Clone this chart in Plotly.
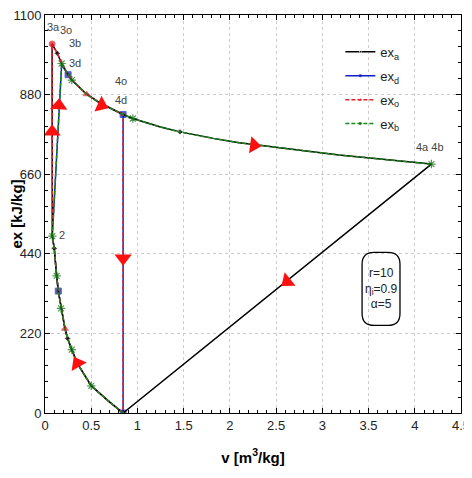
import plotly.graph_objects as go

# ---- data ----
# compression 1 -> 2 (shared by all cycles)
v_comp = [0.845, 0.70, 0.50, 0.35, 0.29, 0.245, 0.216, 0.173, 0.144, 0.126, 0.10, 0.079]
ex_comp = [0, 30, 75, 137, 175, 206, 233, 289, 337, 379, 455, 489]

# expansion curve starting at 3a / 3o
v_exp = [0.077, 0.133, 0.18, 0.25, 0.29, 0.45, 0.60, 0.845, 0.95, 1.24, 1.46, 1.82, 2.10, 3.18, 4.18]
ex_exp = [1020, 994, 966, 935, 920, 881, 856, 825, 814, 791, 777, 759, 747, 713, 688]

# state points
v1, ex1 = 0.845, 0
v3b, ex3b = 0.18, 966
v3d, ex3d = 0.25, 935
v4, ex4 = 0.845, 825
v4a, ex4a = 4.18, 688

# flow-direction arrows
arrow_v = [0.077, 0.15, 0.61, 2.26, 0.845, 2.62, 0.35]
arrow_ex = [777, 850, 851, 740, 428, 364, 137]
arrow_angle = [0, 3, 114, 98, 180, 231, -29]

# state labels
lab_text = ["3a", "3o", "3b", "3d", "4o", "4d", "4a 4b", "2"]
lab_v = [0.097, 0.227, 0.324, 0.324, 0.827, 0.827, 4.17, 0.18]
lab_ex = [1068, 1058, 1022, 968, 917, 865, 736, 491]

x_ticks = [0, 0.5, 1, 1.5, 2, 2.5, 3, 3.5, 4, 4.5]
x_ticklabels = ["0", "0.5", "1", "1.5", "2", "2.5", "3", "3.5", "4", "4.5"]
y_ticks = [0, 220, 440, 660, 880, 1100]

# ---- build cycles ----
# a: 1-2-3a-expansion-4a-1
va = v_comp + v_exp + [v1]
exa = ex_comp + ex_exp + [ex1]
# d: 1-2-3d-expansion to 4d-1
i3d = v_exp.index(v3d)
i4 = v_exp.index(v4)
vd = v_comp + [v3b] + v_exp[i3d:i4 + 1] + [v1]
exd = ex_comp + [ex3b - 4] + ex_exp[i3d:i4 + 1] + [ex1]
# o: 1-2-3o-expansion to 4o-1
vo = v_comp + v_exp[:i4 + 1] + [v1]
exo = ex_comp + ex_exp[:i4 + 1] + [ex1]
# b: 1-2-3b-expansion to 4b
i3b = v_exp.index(v3b)
vb = v_comp + v_exp[i3b:]
exb = ex_comp + ex_exp[i3b:]


def sizes(n, idx, s):
    return [s if i in idx else 0 for i in range(n)]


fig = go.Figure()

nc = len(v_comp)
# blue (d)
fig.add_trace(go.Scatter(
    x=vd, y=exd, mode="lines+markers", name="ex<sub>d</sub>", legendrank=2, legendgroup="d",
    line=dict(color="#1020c8", width=1.5),
    marker=dict(symbol="square", color="#101080",
                size=sizes(len(vd), {0, 8, nc + 1, len(vd) - 2}, 6))))
# black (a)
fig.add_trace(go.Scatter(
    x=va, y=exa, mode="lines+markers", name="ex<sub>a</sub>", legendrank=1, legendgroup="a",
    line=dict(color="black", width=1.5),
    marker=dict(symbol="diamond", color="black",
                size=sizes(len(va), {5, 10, nc + 1, nc + 10}, 5))))
# red (o)
fig.add_trace(go.Scatter(
    x=vo, y=exo, mode="lines+markers", name="ex<sub>o</sub>", legendrank=3, legendgroup="o",
    line=dict(color="#e8202a", width=1.5, dash="4px,2px"),
    marker=dict(symbol=["circle" if i == nc else "triangle-up" for i in range(len(vo))],
                color="#d01020",
                size=sizes(len(vo), {6, nc, nc + 5}, 6))))
# green (b)
fig.add_trace(go.Scatter(
    x=vb, y=exb, mode="lines+markers", name="ex<sub>b</sub>", legendrank=4, legendgroup="b",
    line=dict(color="#168a16", width=1.5, dash="4px,2px"),
    marker=dict(symbol="asterisk-open", color="#0a6a0a", line=dict(color="#0a6a0a", width=1.2),
                size=sizes(len(vb), {2, 4, 7, 9, 11, nc, nc + 2, nc + 6, len(vb) - 1}, 7))))

# arrows
fig.add_trace(go.Scatter(
    x=arrow_v, y=arrow_ex, mode="markers", showlegend=False, hoverinfo="skip",
    marker=dict(symbol="triangle-up", size=15, color="#ff1010", angle=arrow_angle,
                line=dict(width=0))))

for t, xv, yv in zip(lab_text, lab_v, lab_ex):
    fig.add_annotation(x=xv, y=yv, text=t, showarrow=False,
                       font=dict(family="Liberation Sans", size=11, color="#444"))

# parameter box
fig.add_shape(type="path", xref="x", yref="y",
              path="M 3.56,444 L 3.71,444 Q 3.84,444 3.84,411 L 3.84,275 Q 3.84,242 3.71,242 "
                   "L 3.56,242 Q 3.43,242 3.43,275 L 3.43,411 Q 3.43,444 3.56,444 Z",
              line=dict(color="black", width=1.3))
fig.add_annotation(x=3.635, y=343, xref="x", yref="y", showarrow=False, align="center",
                   text="r=10<br>η<sub>i</sub>=0.9<br>α=5",
                   font=dict(family="Liberation Sans", size=12, color="#222"))

axis_common = dict(
    showline=True, linecolor="black", linewidth=1, mirror="ticks",
    ticks="inside", ticklen=5, tickcolor="black",
    showgrid=True, gridcolor="#cccccc", griddash="3px,3px", gridwidth=1,
    zeroline=False, automargin=False, ticklabeloverflow="allow",
    tickfont=dict(family="Liberation Sans", size=13, color="#222"),
)

fig.update_xaxes(**axis_common, range=[0, 4.5], tickvals=x_ticks, ticktext=x_ticklabels,
                 minor=dict(ticks="inside", ticklen=3, dtick=0.1, tickcolor="black", showgrid=False),
                 title=dict(text="<b>v [m<sup>3</sup>/kg]</b>", standoff=20,
                            font=dict(family="Liberation Sans", size=15, color="black")))
fig.update_yaxes(**axis_common, range=[0, 1100], tickvals=y_ticks,
                 minor=dict(ticks="inside", ticklen=3, dtick=44, tickcolor="black", showgrid=False),
                 title=dict(text="<b>ex [kJ/kg]</b>", standoff=4,
                            font=dict(family="Liberation Sans", size=15, color="black")))

fig.update_layout(
    width=464, height=470,
    margin=dict(l=37, r=11, t=7, b=65),
    paper_bgcolor="white", plot_bgcolor="white",
    legend=dict(x=0.71, y=0.945, xanchor="left", yanchor="top",
                bgcolor="rgba(255,255,255,0)", borderwidth=0,
                font=dict(family="Liberation Sans", size=13, color="#222"),
                itemwidth=30, tracegroupgap=4),
    showlegend=True,
)

fig.write_html("out.html")
